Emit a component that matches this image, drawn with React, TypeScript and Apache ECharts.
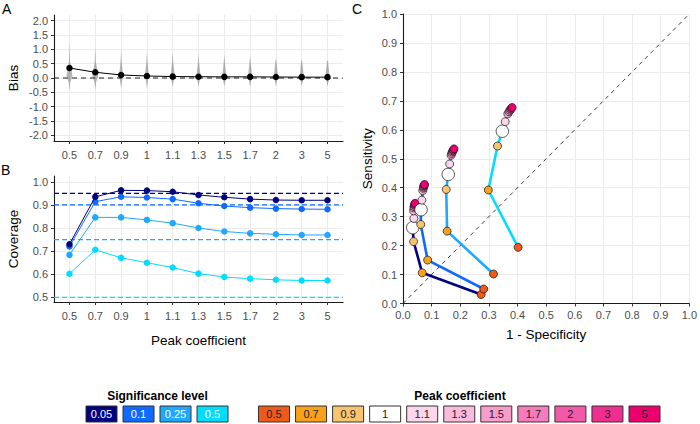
import React, { useEffect, useRef } from "react";
import * as echarts from "echarts";

const peakLabels = ["0.5", "0.7", "0.9", "1", "1.1", "1.3", "1.5", "1.7", "2", "3", "5"];
const sigLabels = ["0.05", "0.1", "0.25", "0.5"];
const sigLevels = [0.05, 0.1, 0.25, 0.5];

const biasValues = [0.35, 0.2, 0.105, 0.07, 0.05, 0.045, 0.04, 0.04, 0.035, 0.03, 0.03];
const violinTop = [1.3, 1.1, 1.0, 0.95, 0.9, 0.85, 0.8, 0.75, 0.7, 0.65, 0.6];
const violinBottom = [-0.45, -0.4, -0.35, -0.35, -0.32, -0.3, -0.3, -0.3, -0.28, -0.28, -0.28];

const coverage005 = [0.73, 0.935, 0.963, 0.962, 0.957, 0.943, 0.933, 0.925, 0.921, 0.92, 0.92];
const coverage01 = [0.72, 0.914, 0.935, 0.932, 0.925, 0.907, 0.895, 0.888, 0.884, 0.882, 0.881];
const coverage025 = [0.684, 0.846, 0.846, 0.835, 0.821, 0.8, 0.785, 0.777, 0.773, 0.77, 0.77];
const coverage05 = [0.602, 0.706, 0.671, 0.65, 0.629, 0.603, 0.588, 0.581, 0.576, 0.573, 0.573];

const fpr005 = [0.273, 0.067, 0.037, 0.034, 0.038, 0.037, 0.038, 0.039, 0.04, 0.041, 0.042];
const tpr005 = [0.031, 0.106, 0.214, 0.262, 0.294, 0.32, 0.33, 0.335, 0.34, 0.343, 0.346];
const fpr01 = [0.282, 0.086, 0.062, 0.063, 0.066, 0.069, 0.071, 0.072, 0.073, 0.074, 0.075];
const tpr01 = [0.05, 0.15, 0.273, 0.324, 0.357, 0.39, 0.398, 0.402, 0.406, 0.409, 0.411];
const fpr025 = [0.316, 0.154, 0.151, 0.158, 0.163, 0.168, 0.17, 0.172, 0.174, 0.176, 0.178];
const tpr025 = [0.102, 0.25, 0.394, 0.446, 0.482, 0.512, 0.518, 0.523, 0.527, 0.53, 0.534];
const fpr05 = [0.402, 0.298, 0.33, 0.347, 0.357, 0.366, 0.37, 0.373, 0.376, 0.379, 0.381];
const tpr05 = [0.194, 0.392, 0.544, 0.595, 0.628, 0.655, 0.662, 0.667, 0.671, 0.674, 0.677];

const biasTicks = [-2, -1.5, -1, -0.5, 0, 0.5, 1, 1.5, 2];
const coverageTicks = [0.5, 0.6, 0.7, 0.8, 0.9, 1.0];
const rocTicks = [0, 0.1, 0.2, 0.3, 0.4, 0.5, 0.6, 0.7, 0.8, 0.9, 1.0];

const sigColors = ["#000080", "#0F6BFF", "#1FA8FF", "#00DDFF"];
const peakColors = ["#EE5A1A", "#F9A11B", "#F8C470", "#FFFFFF", "#FCD6EA", "#F9BADB", "#F79CCB", "#F57CBB", "#F25AA9", "#EF2E90", "#EC0070"];

const FONT = "'Liberation Sans', Arial, sans-serif";

export default function App() {
  const ref = useRef<HTMLDivElement>(null);
  useEffect(() => {
    if (!ref.current) return;
    const chart = echarts.init(ref.current, null, { renderer: "svg" });
    const idx = peakLabels.map((_, i) => i);
    const coverage = [coverage005, coverage01, coverage025, coverage05];
    const fprs = [fpr005, fpr01, fpr025, fpr05];
    const tprs = [tpr005, tpr01, tpr025, tpr05];

    const gridLine = { show: true, lineStyle: { color: "#EBEBEB", width: 1 } };
    const axisLine = { show: true, onZero: false, lineStyle: { color: "#1a1a1a", width: 1.1 } };
    const tick = { show: true, length: 3, lineStyle: { color: "#333" } };
    const lbl = { color: "#4D4D4D", fontSize: 11, fontFamily: FONT };
    const nameStyle = { color: "#000", fontSize: 13.5, fontFamily: FONT };

    const catXAxis = (gridIndex: number, name: string) => ({
      type: "value",
      gridIndex,
      min: -0.6,
      max: 10.6,
      name,
      nameLocation: "middle",
      nameGap: 31,
      nameTextStyle: nameStyle,
      axisLine,
      axisTick: { ...tick, customValues: idx },
      axisLabel: { ...lbl, margin: 8, customValues: idx, formatter: (v: number) => peakLabels[Math.round(v)] ?? "" },
      splitLine: gridLine,
    });

    const sigLegend: any[] = [];
    sigLabels.forEach((s, i) => {
      const x = 86 + i * 37;
      sigLegend.push({ type: "rect", shape: { x, y: 406, width: 31, height: 16 }, style: { fill: sigColors[i], stroke: "#333", lineWidth: 1 } });
      sigLegend.push({ type: "text", x: x + 15.5, y: 414, style: { text: s, fill: "#fff", font: `11px ${FONT}`, align: "center", verticalAlign: "middle" } });
    });
    peakLabels.forEach((p, i) => {
      const x = 258.5 + i * 37.05;
      sigLegend.push({ type: "rect", shape: { x, y: 406, width: 31, height: 16 }, style: { fill: peakColors[i], stroke: "#333", lineWidth: 1 } });
      sigLegend.push({ type: "text", x: x + 15.5, y: 414, style: { text: p, fill: "#222", font: `11px ${FONT}`, align: "center", verticalAlign: "middle" } });
    });

    const option: any = {
      animation: false,
      backgroundColor: "#fff",
      textStyle: { fontFamily: FONT },
      grid: [
        { left: 54, top: 15, width: 289, height: 126 },
        { left: 54, top: 176, width: 289, height: 126 },
        { left: 403, top: 14, width: 289.5, height: 289.5 },
      ],
      xAxis: [
        { ...catXAxis(0, "") },
        { ...catXAxis(1, "Peak coefficient") },
        {
          type: "value", gridIndex: 2, min: 0, max: 1, name: "1 - Specificity", nameLocation: "middle", nameGap: 24,
          nameTextStyle: nameStyle, axisLine, axisTick: { ...tick, customValues: rocTicks },
          axisLabel: { ...lbl, margin: 6, customValues: rocTicks, formatter: (v: number) => v.toFixed(1) },
          splitLine: gridLine,
        },
      ],
      yAxis: [
        {
          type: "value", gridIndex: 0, min: -2.2, max: 2.2, name: "Bias", nameLocation: "middle", nameGap: 34,
          nameTextStyle: nameStyle, axisLine, axisTick: { ...tick, customValues: biasTicks },
          axisLabel: { ...lbl, margin: 6, customValues: biasTicks, formatter: (v: number) => v.toFixed(1) },
          splitLine: gridLine,
        },
        {
          type: "value", gridIndex: 1, min: 0.48, max: 1.025, name: "Coverage", nameLocation: "middle", nameGap: 34,
          nameTextStyle: nameStyle, axisLine, axisTick: { ...tick, customValues: coverageTicks },
          axisLabel: { ...lbl, margin: 6, customValues: coverageTicks, formatter: (v: number) => v.toFixed(1) },
          splitLine: gridLine,
        },
        {
          type: "value", gridIndex: 2, min: 0, max: 1, name: "Sensitivity", nameLocation: "middle", nameGap: 29,
          nameTextStyle: nameStyle, axisLine, axisTick: { ...tick, customValues: rocTicks },
          axisLabel: { ...lbl, margin: 6, customValues: rocTicks, formatter: (v: number) => v.toFixed(1) },
          splitLine: gridLine,
        },
      ],
      series: [
        {
          type: "custom",
          xAxisIndex: 0,
          yAxisIndex: 0,
          z: 1,
          data: idx.map((i) => [i, violinTop[i], violinBottom[i], biasValues[i]]),
          renderItem: (params: any, api: any) => {
            const x = api.value(0);
            const pT = api.coord([x, api.value(1)]);
            const pB = api.coord([x, api.value(2)]);
            const pC = api.coord([x, 0.03]);
            const w = x < 2 ? 3 : 2;
            return {
              type: "polygon",
              shape: {
                points: [
                  [pT[0], pT[1]],
                  [pT[0] + 0.5, pC[1] - 16],
                  [pT[0] + w, pC[1] - 1.5],
                  [pT[0] + 0.8, pC[1] + 5],
                  [pB[0], pB[1]],
                  [pT[0] - 0.8, pC[1] + 5],
                  [pT[0] - w, pC[1] - 1.5],
                  [pT[0] - 0.5, pC[1] - 16],
                ],
              },
              style: { fill: "rgba(90,90,90,0.45)" },
            };
          },
        },
        {
          type: "line",
          xAxisIndex: 0,
          yAxisIndex: 0,
          z: 2,
          data: [[-0.6, 0], [10.6, 0]],
          symbol: "none",
          lineStyle: { color: "#222", type: [5, 4], width: 1 },
        },
        {
          type: "line",
          xAxisIndex: 0,
          yAxisIndex: 0,
          z: 3,
          data: idx.map((i) => [i, biasValues[i]]),
          symbol: "circle",
          symbolSize: 6.5,
          itemStyle: { color: "#000" },
          lineStyle: { color: "#000", width: 1 },
        },
        ...sigLevels.map((s, k) => ({
          type: "line",
          xAxisIndex: 1,
          yAxisIndex: 1,
          z: 2,
          data: [[-0.6, 1 - s], [10.6, 1 - s]],
          symbol: "none",
          lineStyle: { color: sigColors[k], type: [5, 3], width: 1.1 },
        })),
        ...coverage.map((arr, s) => ({
          type: "line",
          xAxisIndex: 1,
          yAxisIndex: 1,
          z: 3 + (3 - s),
          data: idx.map((i) => [i, arr[i]]),
          symbol: "circle",
          symbolSize: 6.5,
          itemStyle: { color: sigColors[s] },
          lineStyle: { color: sigColors[s], width: 1 },
        })),
        {
          type: "line",
          xAxisIndex: 2,
          yAxisIndex: 2,
          z: 1,
          data: [[0, 0], [1, 1]],
          symbol: "none",
          lineStyle: { color: "#222", type: [4, 4], width: 0.9 },
        },
        ...fprs.map((arr, s) => ({
          type: "line",
          xAxisIndex: 2,
          yAxisIndex: 2,
          z: 2,
          data: idx.map((i) => [arr[i], tprs[s][i]]),
          showSymbol: false,
          symbol: "none",
          lineStyle: { color: sigColors[s], width: 2.6 },
        })),
        {
          type: "scatter",
          xAxisIndex: 2,
          yAxisIndex: 2,
          z: 4,
          data: fprs.flatMap((arr, s) => idx.map((i) => [arr[i], tprs[s][i], i])),
          symbolSize: (v: number[]) => (v[2] === 3 ? 12.5 : 8),
          itemStyle: {
            color: (p: any) => peakColors[p.data[2]],
            borderColor: "#111",
            borderWidth: 0.7,
            opacity: 1,
          },
        },
      ],
      graphic: [
        { type: "text", x: 2, y: 2, style: { text: "A", font: `14px ${FONT}`, fill: "#000" } },
        { type: "text", x: 1, y: 163, style: { text: "B", font: `14px ${FONT}`, fill: "#000" } },
        { type: "text", x: 352, y: 2, style: { text: "C", font: `14px ${FONT}`, fill: "#000" } },
        { type: "text", x: 157.5, y: 396, style: { text: "Significance level", font: `bold 12px ${FONT}`, fill: "#000", align: "center", verticalAlign: "middle" } },
        { type: "text", x: 460, y: 396, style: { text: "Peak coefficient", font: `bold 12px ${FONT}`, fill: "#000", align: "center", verticalAlign: "middle" } },
        ...sigLegend,
      ],
    };
    chart.setOption(option);
    return () => chart.dispose();
  }, []);
  return <div ref={ref} style={{ position: "fixed", left: 0, top: 0, width: 700, height: 424 }} />;
}
